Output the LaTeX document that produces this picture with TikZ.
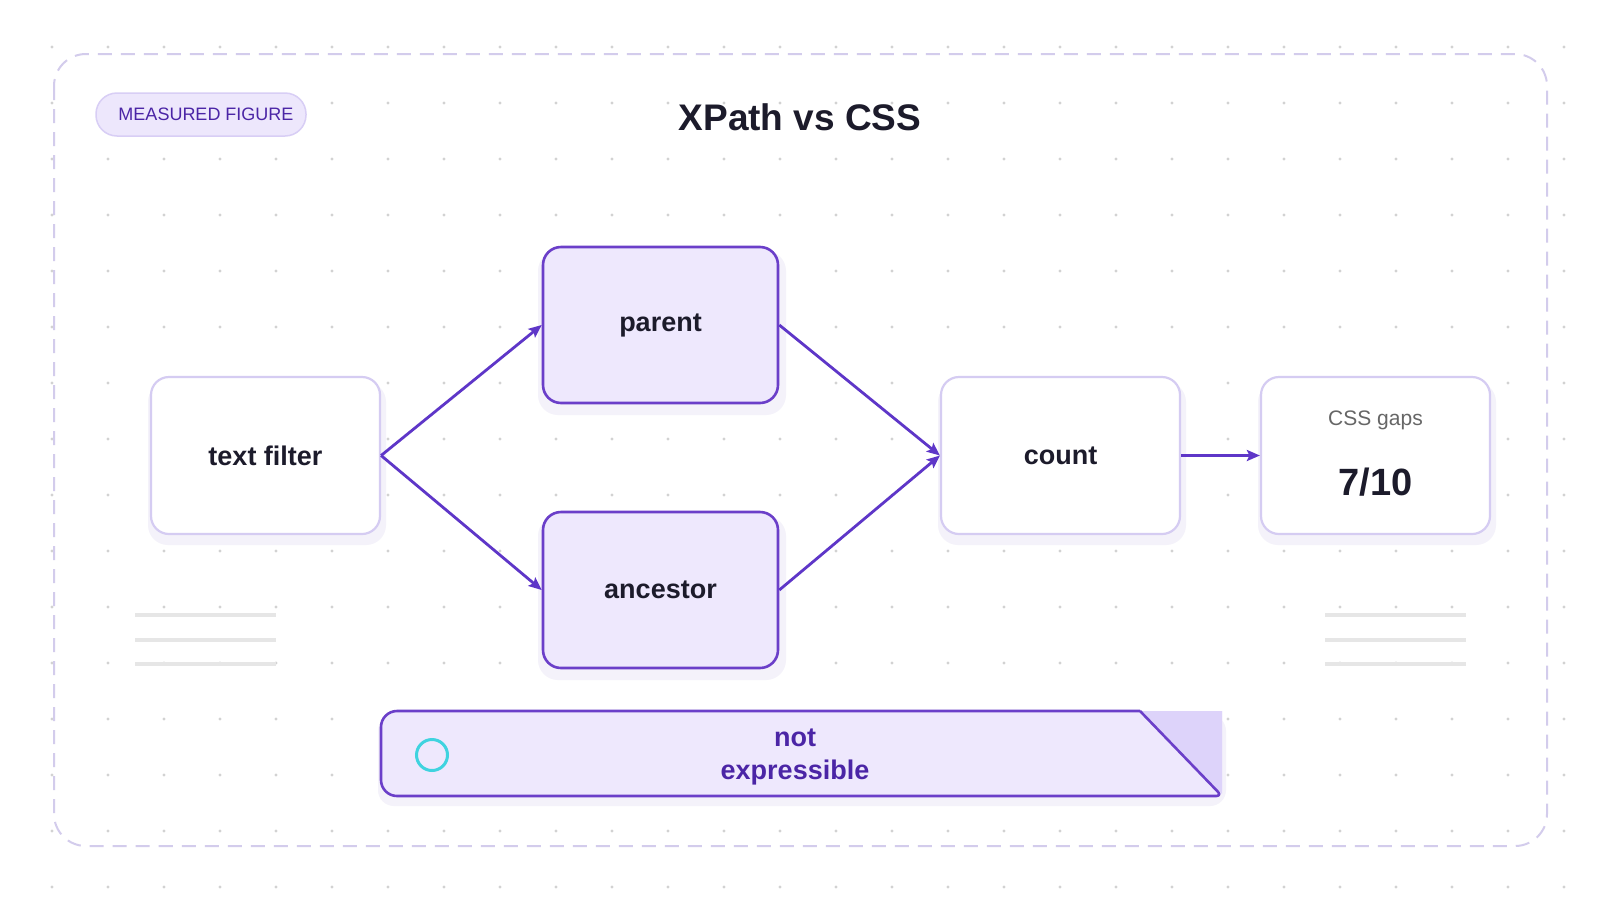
\documentclass[tikz,border=0pt]{standalone}
\usepackage{fontspec}
\setmainfont{Liberation Sans}
\usetikzlibrary{arrows.meta}
\definecolor{dotc}{HTML}{D2D2D2}
\definecolor{framec}{HTML}{D3CCEC}
\definecolor{badgefill}{HTML}{EDE7FC}
\definecolor{badgedraw}{HTML}{D8CEF5}
\definecolor{badgetext}{HTML}{4B25A6}
\definecolor{pur}{HTML}{6B3FC9}
\definecolor{arrc}{HTML}{5E36C8}
\definecolor{lavfill}{HTML}{EEE8FD}
\definecolor{lightdraw}{HTML}{D5CCF2}
\definecolor{darktri}{HTML}{DDD3FA}
\definecolor{grayl}{HTML}{E6E6E6}
\definecolor{cyanc}{HTML}{3FD3DF}
\definecolor{txt}{HTML}{1C1B2B}
\definecolor{graytxt}{HTML}{666666}
\definecolor{shadowc}{HTML}{F4F2FA}
\tikzset{
  boxbase/.style={rectangle, rounded corners=18pt, minimum width=229pt, minimum height=157pt, line width=2.2pt, inner sep=0pt, text=txt, font=\bfseries\fontsize{27}{32}\selectfont},
  plainbox/.style={boxbase, draw=lightdraw, fill=white},
  hotbox/.style={boxbase, draw=pur, fill=lavfill, minimum width=235pt, minimum height=156pt, line width=2.6pt},
  arr/.style={draw=arrc, line width=2.8pt, -{Stealth[length=13pt,width=11pt,inset=2.5pt]}},
  shad/.style={fill=shadowc, rounded corners=20pt},
}
\begin{document}
\begin{tikzpicture}[x=1pt,y=-1pt]
\useasboundingbox (0,0) rectangle (1600,900);
\fill[white] (0,0) rectangle (1600,900);
% dot grid
\foreach \i in {0,...,27}{
  \foreach \j in {0,...,15}{
    \fill[dotc] (52+56*\i,47+56*\j) circle[radius=1.7pt];
  }
}
% frame
\draw[framec, line width=2pt, dash pattern=on 14pt off 9pt, rounded corners=32pt] (54,54) rectangle (1547,846);
% badge
\node[rectangle, rounded corners=21pt, minimum width=210pt, minimum height=43pt, fill=badgefill, draw=badgedraw, line width=1.5pt] (badge) at (201,114.5) {};
\node[text=badgetext, font=\fontsize{18}{22}\selectfont] (badgetxt) at (206,114.5) {MEASURED FIGURE};
% title
\node[font=\bfseries\fontsize{37}{44}\selectfont, text=txt] (title) at (800,117) {XPath vs CSS};
% decorative gray lines
\foreach \yy in {615,640,664}{
  \draw[grayl, line width=4pt] (135,\yy) -- (276,\yy);
  \draw[grayl, line width=4pt] (1325,\yy) -- (1466,\yy);
}
% shadows
\fill[shad] (148,382) rectangle (386,545);
\fill[shad] (538,251) rectangle (786,415);
\fill[shad] (538,516) rectangle (786,680);
\fill[shad] (938,382) rectangle (1186,545);
\fill[shad] (1258,382) rectangle (1496,545);
% nodes
\node[plainbox] (tf) at (265.5,455.5) {text filter};
\node[hotbox] (parent) at (660.5,325) {parent};
\node[hotbox] (anc) at (660.5,590) {ancestor};
\node[plainbox, minimum width=239pt] (count) at (1060.5,455.5) {count};
\node[plainbox] (css) at (1375.5,455.5) {};
\node[text=graytxt, font=\fontsize{21}{25}\selectfont] (cssl) at (1375.5,420) {CSS gaps};
\node[text=txt, font=\bfseries\fontsize{38}{44}\selectfont] (cssv) at (1375.5,482) {7/10};
% connectors
\draw[arr] (tf.east) -- (parent.west);
\draw[arr] (tf.east) -- (anc.west);
\draw[arr] (parent.east) -- (count.west);
\draw[arr] (anc.east) -- (count.west);
\draw[arr] (count.east) -- (css.west);
% banner
\coordinate (bcut) at (1140,711);
\coordinate (btr) at (1222,711);
\coordinate (bbr) at (1222,796);
\fill[shadowc, rounded corners=16pt] (378,715) -- (378,806) -- (1226,806) -- (1226,715) -- cycle;
\fill[lavfill, rounded corners=16pt] (bcut) -- (381,711) -- (381,796) [rounded corners=6pt] -- (bbr) [sharp corners] -- (btr) -- cycle;
\fill[darktri] (bcut) -- (btr) -- (1222,794) -- cycle;
\draw[pur, line width=2.6pt, line join=round] (bcut) [rounded corners=16pt] -- (381,711) -- (381,796) [rounded corners=6pt] -- (bbr) [sharp corners] -- (bcut);
\node[circle, draw=cyanc, line width=3pt, minimum size=31pt, inner sep=0pt] (mark) at (432,755) {};
\node[align=center, text=badgetext, font=\bfseries\fontsize{27}{33}\selectfont] (note) at (795,757) {not\\expressible};
\end{tikzpicture}
\end{document}
